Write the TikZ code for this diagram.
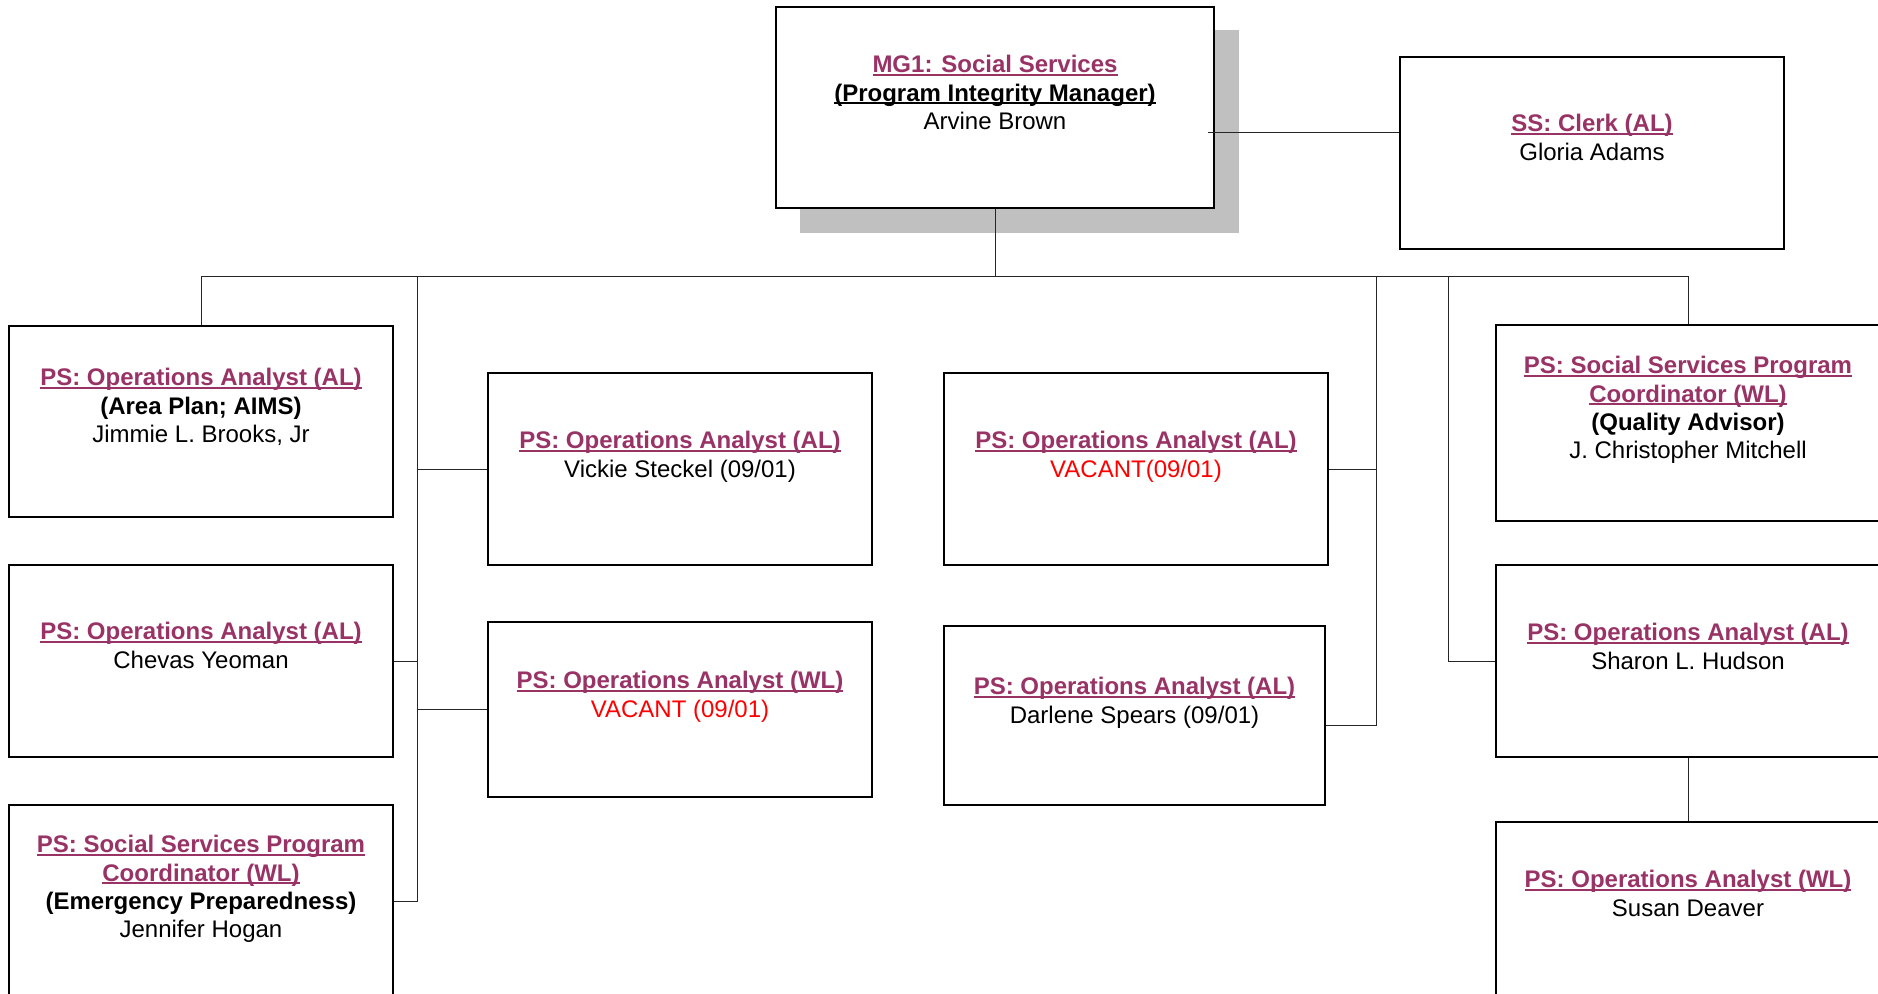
\documentclass[tikz,border=0pt]{standalone}
\usepackage{fontspec}
\setmainfont{Liberation Sans}
\definecolor{ttl}{RGB}{153,51,102}
\definecolor{vac}{RGB}{255,0,0}
\definecolor{shadowgray}{RGB}{192,192,192}
\newcommand\myul[1]{\leavevmode\setbox0=\hbox{#1}\rlap{\rule[-1.5pt]{\wd0}{1pt}}\box0}
\newcommand\ttlt[1]{{\bfseries\color{ttl}\myul{#1}}}
\newcommand\rolet[1]{{\bfseries #1}}
\newcommand\vact[1]{{\color{vac}#1}}
\begin{document}
\begin{tikzpicture}[x=0.5pt,y=-0.5pt,
  box/.style={draw=black,line width=1pt,fill=white,rectangle,inner sep=0pt,minimum width=192pt,minimum height=96pt},
  txt/.style={anchor=north,inner sep=0pt,align=center,font=\fontsize{12}{14.2}\selectfont},
  conn/.style={draw=black!85,line width=0.5pt}]
\useasboundingbox (0,0) rectangle (1878,994);
\clip (0,0) rectangle (1878,994);
% shadow of top box
\fill[shadowgray] (800,30) rectangle (1239,233);
% boxes
\node[box,minimum width=219pt,minimum height=100.5pt] (top) at (995,107.5) {};
\node[box] (clerk) at (1592,153) {};
\node[box,minimum height=95.5pt] (jimmie) at (201,421.5) {};
\node[box] (chevas) at (201,661) {};
\node[box] (jennifer) at (201,901) {};
\node[box] (vickie) at (680,469) {};
\node[box] (vacal) at (1136,469) {};
\node[box,minimum height=87.5pt] (vacwl) at (680,709.5) {};
\node[box,minimum width=190.5pt,minimum height=89.5pt] (darlene) at (1134.5,715.5) {};
\node[box,minimum height=98pt] (quality) at (1688,423) {};
\node[box] (sharon) at (1688,661) {};
\node[box] (susan) at (1688,918) {};
% bus coordinates
\coordinate (bus1) at (201,277);
\coordinate (bus2) at (417,277);
\coordinate (bus4) at (1376,277);
\coordinate (bus5) at (1448,277);
\coordinate (ls) at (417,901);
\coordinate (rs) at (1376,725);
\coordinate (ck) at (1208,133);
% connectors
\draw[conn] (top.south) -- (top.south |- bus1);
\draw[conn] (jimmie.north) -- (bus1) -- (quality.north |- bus1) -- (quality.north);
\draw[conn] (bus2) -- (ls) -- (jennifer.east);
\draw[conn] (chevas.east) -- (chevas.east -| bus2);
\draw[conn] (vickie.west -| bus2) -- (vickie.west);
\draw[conn] (vacwl.west -| bus2) -- (vacwl.west);
\draw[conn] (bus4) -- (rs) -- (rs -| darlene.east);
\draw[conn] (vacal.east) -- (vacal.east -| bus4);
\draw[conn] (bus5) -- (bus5 |- sharon.west) -- (sharon.west);
\draw[conn] (sharon.south) -- (susan.north);
\draw[conn] (ck) -- (ck -| clerk.west);
% texts
\node[txt] (ttop) at (995,55) {\ttlt{MG1: Social Services}\\ \rolet{\myul{(Program Integrity Manager)}}\\ Arvine Brown};
\node[txt] (tclerk) at (1592,114) {\ttlt{SS: Clerk (AL)}\\ Gloria Adams};
\node[txt] (tjimmie) at (201,368) {\ttlt{PS: Operations Analyst (AL)}\\ \rolet{(Area Plan; AIMS)}\\ Jimmie L. Brooks, Jr};
\node[txt] (tchevas) at (201,622) {\ttlt{PS: Operations Analyst (AL)}\\ Chevas Yeoman};
\node[txt] (tjennifer) at (201,835) {\ttlt{PS: Social Services Program}\\ \ttlt{Coordinator (WL)}\\ \rolet{(Emergency Preparedness)}\\ Jennifer Hogan};
\node[txt] (tvickie) at (680,431) {\ttlt{PS: Operations Analyst (AL)}\\ Vickie Steckel (09/01)};
\node[txt] (tvacal) at (1136,431) {\ttlt{PS: Operations Analyst (AL)}\\ \vact{VACANT(09/01)}};
\node[txt] (tvacwl) at (680,671) {\ttlt{PS: Operations Analyst (WL)}\\ \vact{VACANT (09/01)}};
\node[txt] (tdarlene) at (1134.5,677) {\ttlt{PS: Operations Analyst (AL)}\\ Darlene Spears (09/01)};
\node[txt] (tquality) at (1688,356) {\ttlt{PS: Social Services Program}\\ \ttlt{Coordinator (WL)}\\ \rolet{(Quality Advisor)}\\ J. Christopher Mitchell};
\node[txt] (tsharon) at (1688,623) {\ttlt{PS: Operations Analyst (AL)}\\ Sharon L. Hudson};
\node[txt] (tsusan) at (1688,870) {\ttlt{PS: Operations Analyst (WL)}\\ Susan Deaver};
\end{tikzpicture}
\end{document}
